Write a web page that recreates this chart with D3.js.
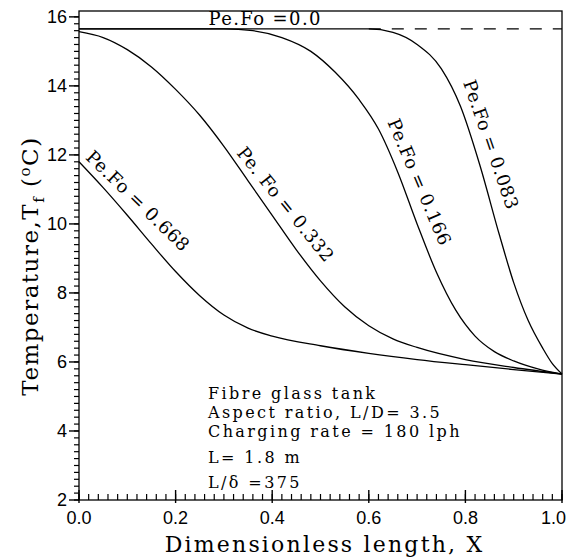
<!DOCTYPE html>
<html>
<head>
<meta charset="utf-8">
<script src="https://cdn.jsdelivr.net/npm/d3@7"></script>
<style>
  body { margin: 0; background: #fff; }
  svg { display: block; }
  .tick-label { font-family: "Liberation Sans", Arial, sans-serif; font-size: 18px; fill: #000; }
  .serif { font-family: "DejaVu Serif", "Liberation Serif", serif; fill: #000; }
</style>
</head>
<body>
<svg id="chart"></svg>
<script>
// data (x = dimensionless length, T = temperature)
var xs668 = [0, 0.05, 0.1, 0.15, 0.2, 0.25, 0.3, 0.35, 0.4, 0.5, 0.6, 0.7, 0.8, 0.9, 1.0];
var ts668 = [11.8, 11.05, 10.25, 9.42, 8.62, 7.92, 7.36, 6.98, 6.75, 6.47, 6.25, 6.07, 5.92, 5.78, 5.65];

var xs332 = [0, 0.05, 0.1, 0.15, 0.2, 0.25, 0.3, 0.35, 0.4, 0.45, 0.5, 0.55, 0.6, 0.65, 0.7, 0.8, 0.9, 1.0];
var ts332 = [15.57, 15.4, 15.05, 14.55, 13.9, 13.15, 12.25, 11.25, 10.25, 9.25, 8.35, 7.6, 7.05, 6.67, 6.42, 6.07, 5.84, 5.65];

var xs166 = [0, 0.3, 0.36, 0.42, 0.48, 0.53, 0.58, 0.62, 0.66, 0.7, 0.74, 0.78, 0.82, 0.86, 0.9, 0.95, 1.0];
var ts166 = [15.65, 15.65, 15.6, 15.4, 15.0, 14.4, 13.6, 12.75, 11.5, 10.0, 8.6, 7.5, 6.75, 6.3, 6.03, 5.8, 5.65];

var xs083 = [0, 0.6, 0.65, 0.7, 0.75, 0.79, 0.83, 0.87, 0.9, 0.93, 0.96, 0.98, 1.0];
var ts083 = [15.65, 15.65, 15.55, 15.2, 14.5, 13.4, 11.7, 9.7, 8.3, 7.2, 6.4, 5.95, 5.65];

var xs000 = [0.6, 1.0];
var ts000 = [15.65, 15.65];

var yTicks = [2, 4, 6, 8, 10, 12, 14, 16];
var xTicks = [0, 0.2, 0.4, 0.6, 0.8, 1.0];

var notes = ["Fibre glass tank", "Aspect ratio, L/D= 3.5", "Charging rate = 180 lph", "L= 1.8 m", "L/\u03b4 =375"];

var width = 567, height = 559;

var svg = d3.select("#chart")
  .attr("width", width)
  .attr("height", height);

var x = d3.scaleLinear().domain([0, 1]).range([79, 562]);
var y = d3.scaleLinear().domain([2, 16.17]).range([500, 11]);

function pairs(xv, tv) {
  return xv.map(function(d, i) { return [d, tv[i]]; });
}

// frame
svg.append("rect")
  .attr("x", x(0)).attr("y", y(16.17))
  .attr("width", x(1) - x(0)).attr("height", y(2) - y(16.17))
  .attr("fill", "none").attr("stroke", "#000").attr("stroke-width", 1.3);

// y axis ticks (outside, left)
var yMinor = d3.range(2, 16.01, 0.2);
svg.selectAll(".ymin").data(yMinor).enter().append("line")
  .attr("x1", x(0) - 5).attr("x2", x(0))
  .attr("y1", function(d) { return y(d); }).attr("y2", function(d) { return y(d); })
  .attr("stroke", "#000").attr("stroke-width", 1.2);
svg.selectAll(".ymaj").data(yTicks).enter().append("line")
  .attr("x1", x(0) - 10).attr("x2", x(0))
  .attr("y1", function(d) { return y(d); }).attr("y2", function(d) { return y(d); })
  .attr("stroke", "#000").attr("stroke-width", 1.4);
svg.selectAll(".ylab").data(yTicks).enter().append("text")
  .attr("class", "tick-label")
  .attr("x", x(0) - 12).attr("y", function(d) { return y(d) + 6; })
  .attr("text-anchor", "end")
  .text(function(d) { return d; });

// x axis ticks (inside, up)
var xMinor = d3.range(0, 1.001, 0.02);
svg.selectAll(".xmin").data(xMinor).enter().append("line")
  .attr("x1", function(d) { return x(d); }).attr("x2", function(d) { return x(d); })
  .attr("y1", y(2)).attr("y2", y(2) - 6)
  .attr("stroke", "#000").attr("stroke-width", 1.2);
svg.selectAll(".xmaj").data(xTicks).enter().append("line")
  .attr("x1", function(d) { return x(d); }).attr("x2", function(d) { return x(d); })
  .attr("y1", y(2) + 3).attr("y2", y(2) - 10)
  .attr("stroke", "#000").attr("stroke-width", 1.4);
svg.selectAll(".xlab").data(xTicks).enter().append("text")
  .attr("class", "tick-label")
  .attr("x", function(d, i) { return i === xTicks.length - 1 ? x(d) + 4 : x(d); })
  .attr("y", y(2) + 24)
  .attr("text-anchor", function(d, i) { return i === xTicks.length - 1 ? "end" : "middle"; })
  .text(function(d) { return d3.format(".1f")(d); });

// axis titles
svg.append("text")
  .attr("class", "serif")
  .attr("x", (x(0) + x(1)) / 2 + 4).attr("y", 552)
  .attr("text-anchor", "middle")
  .attr("font-size", 22).attr("letter-spacing", 2.2)
  .text("Dimensionless length, X");

var ylab = svg.append("text")
  .attr("class", "serif")
  .attr("transform", "translate(38,266) rotate(-90)")
  .attr("text-anchor", "middle")
  .attr("font-size", 23).attr("letter-spacing", 1.5);
ylab.append("tspan").text("Temperature,T");
ylab.append("tspan").attr("font-size", 15).attr("dy", 6).text("f");
ylab.append("tspan").attr("dy", -6).text("  (");
ylab.append("tspan").attr("font-size", 15).attr("dy", -8).text("o");
ylab.append("tspan").attr("dy", 8).text("C)");

// curves
var line = d3.line()
  .x(function(d) { return x(d[0]); })
  .y(function(d) { return y(d[1]); })
  .curve(d3.curveMonotoneX);

svg.append("path").datum(pairs(xs000, ts000))
  .attr("d", line).attr("fill", "none").attr("stroke", "#000")
  .attr("stroke-width", 1.3).attr("stroke-dasharray", "12,11");

[[xs083, ts083], [xs166, ts166], [xs332, ts332], [xs668, ts668]].forEach(function(s) {
  svg.append("path").datum(pairs(s[0], s[1]))
    .attr("d", line).attr("fill", "none").attr("stroke", "#000")
    .attr("stroke-width", 1.3);
});

// curve labels
var curveLabels = [
  { text: "Pe.Fo  =0.0", x: 0.268, t: 15.75, angle: 0, ls: 1.4 },
  { text: "Pe.Fo  =  0.668", x: 0.012, t: 11.9, angle: 44, ls: 0.6 },
  { text: "Pe. Fo  =  0.332", x: 0.325, t: 12.05, angle: 51, ls: 0.6 },
  { text: "Pe.Fo  =  0.166", x: 0.638, t: 12.95, angle: 67, ls: 0.6 },
  { text: "Pe.Fo  =  0.083", x: 0.795, t: 14.1, angle: 71, ls: 0.6 }
];
svg.selectAll(".clab").data(curveLabels).enter().append("text")
  .attr("class", "serif")
  .attr("font-size", 18)
  .attr("letter-spacing", function(d) { return d.ls; })
  .attr("transform", function(d) {
    return "translate(" + x(d.x) + "," + y(d.t) + ") rotate(" + d.angle + ")";
  })
  .text(function(d) { return d.text; });

// notes
svg.selectAll(".note").data(notes).enter().append("text")
  .attr("class", "serif")
  .attr("font-size", 16).attr("letter-spacing", 2.4)
  .attr("x", 208)
  .attr("y", function(d, i) { return [399, 418, 437, 463, 488][i]; })
  .text(function(d) { return d; });
</script>
</body>
</html>
